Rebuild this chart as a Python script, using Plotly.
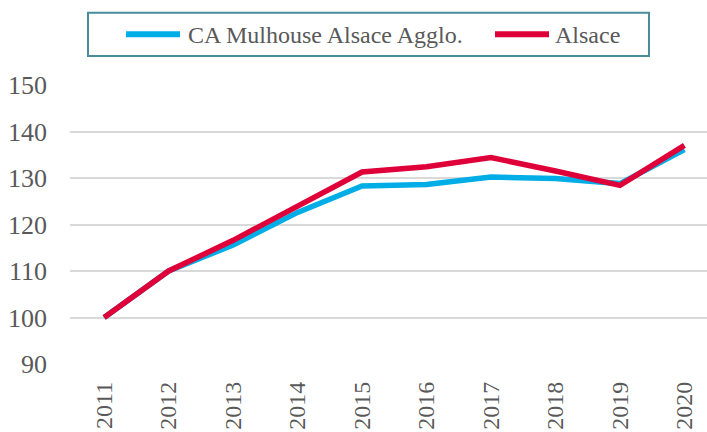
import plotly.graph_objects as go

years = ["2011", "2012", "2013", "2014", "2015", "2016", "2017", "2018", "2019", "2020"]
mulhouse = [100, 110, 115.6, 122.6, 128.3, 128.6, 130.2, 129.9, 128.8, 136.1]
alsace = [100, 110, 116.6, 124.1, 131.3, 132.4, 134.4, 131.5, 128.4, 137.0]
y_ticks = [90, 100, 110, 120, 130, 140, 150]
series_names = ["CA Mulhouse Alsace Agglo.", "Alsace"]
series_colors = ["#00ADE6", "#DF0039"]

FONT = "Liberation Serif"
GRAY = "#595959"
xs = list(range(len(years)))

# plot area in pixels: x 70..707, y 85..364
L, R, T, B = 70, 707, 85, 364
def px(x):
    return (x - L) / (R - L)
def py(y):
    return (B - y) / (B - T)

fig = go.Figure()
for name, vals, col in zip(series_names, [mulhouse, alsace], series_colors):
    fig.add_trace(go.Scatter(x=xs, y=vals, mode="lines", name=name, showlegend=False,
                             line=dict(color=col, width=5.5)))

# manual legend (box + samples + labels)
shapes = [dict(type="rect", xref="paper", yref="paper", x0=px(88), x1=px(649), y0=py(56), y1=py(12.7),
               line=dict(color="#4A8C9C", width=2), fillcolor="rgba(0,0,0,0)", layer="above")]
annotations = []
leg_items = [(126, 180, 186), (495, 549, 553)]
for (x0, x1, tx), name, col in zip(leg_items, series_names, series_colors):
    shapes.append(dict(type="line", xref="paper", yref="paper", x0=px(x0), x1=px(x1),
                       y0=py(34.3), y1=py(34.3), line=dict(color=col, width=6)))
    annotations.append(dict(text=name, xref="paper", yref="paper", x=px(tx), y=py(35),
                            xanchor="left", yanchor="middle", showarrow=False,
                            font=dict(size=24, color=GRAY, family=FONT)))

fig.update_layout(
    width=707, height=432,
    margin=dict(l=L, r=707 - R, t=T, b=432 - B, autoexpand=False),
    plot_bgcolor="white", paper_bgcolor="white",
    font=dict(family=FONT, color=GRAY, size=24),
    showlegend=False,
    shapes=shapes, annotations=annotations,
)
fig.update_xaxes(range=[-0.53, 9.35], tickmode="array", tickvals=xs, ticktext=years,
                 tickangle=-90, showgrid=False, zeroline=False, showline=False, automargin=False,
                 tickfont=dict(size=24, color=GRAY, family=FONT), ticks="", ticklabelstandoff=12)
fig.update_yaxes(range=[90, 150], tickmode="array", tickvals=y_ticks, showgrid=True,
                 gridcolor="#D9D9D9", gridwidth=1.5, zeroline=False, showline=False, automargin=False,
                 tickfont=dict(size=26, color=GRAY, family=FONT), ticks="", ticklabelstandoff=22)

fig.write_html("out.html", config={"displayModeBar": False},
               post_script="document.body.style.margin='0';document.body.style.overflow='hidden';")
